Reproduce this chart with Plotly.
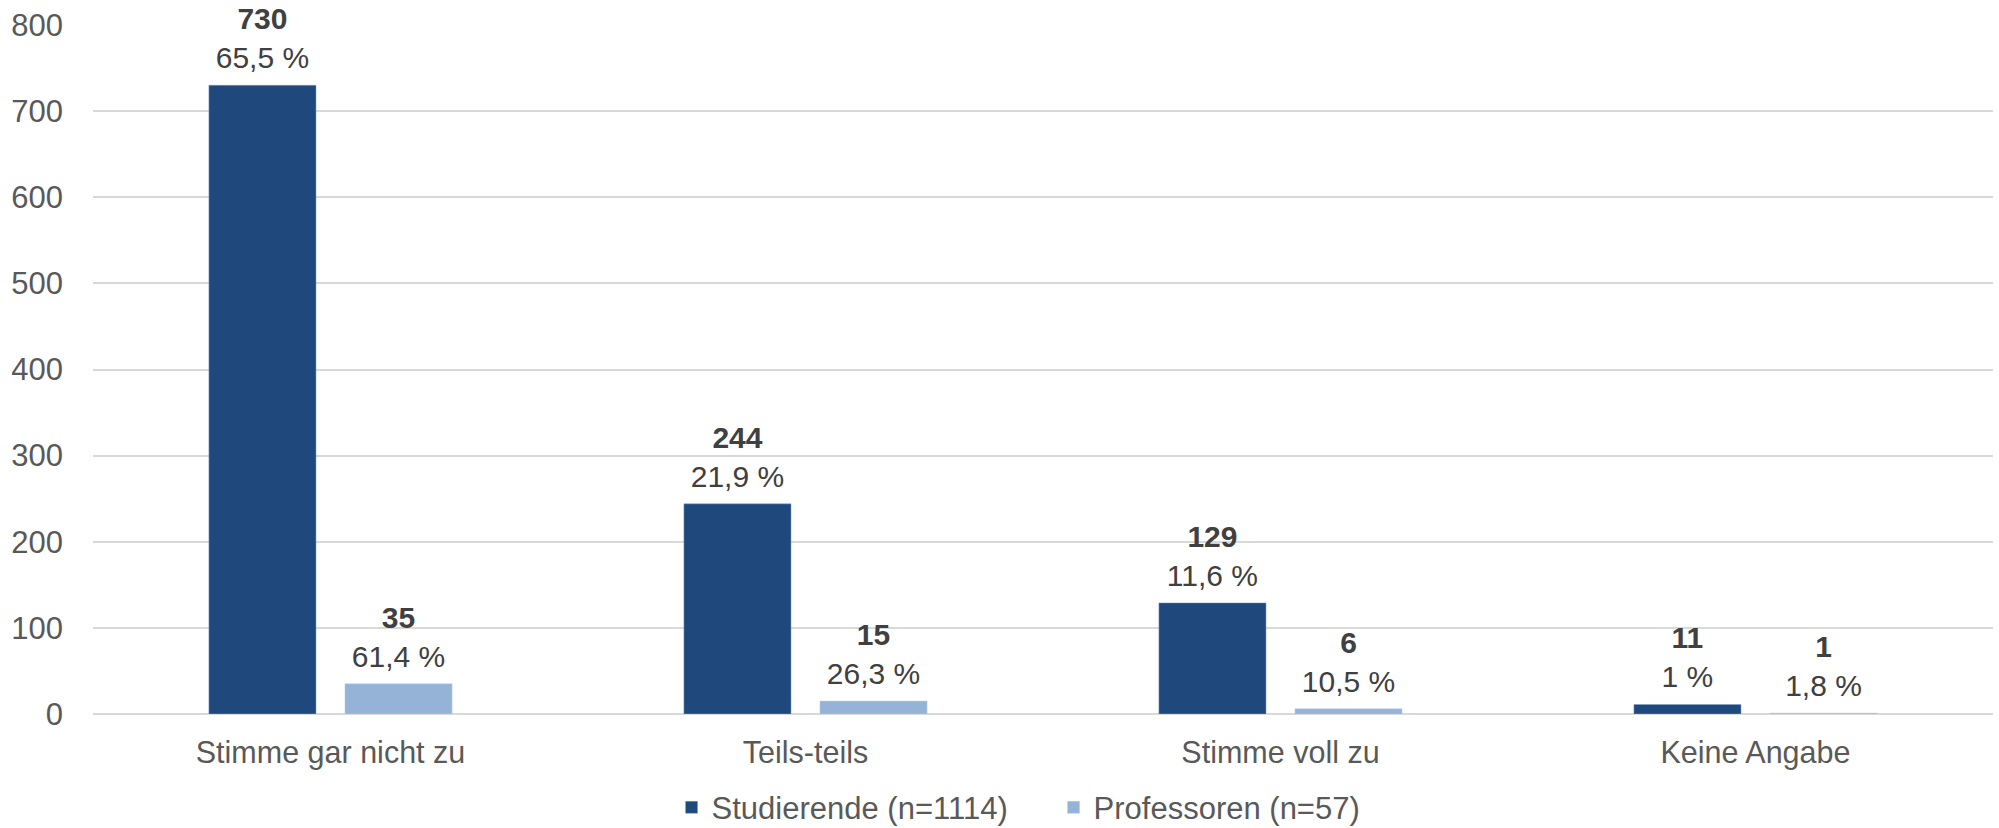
import plotly.graph_objects as go

categories = ["Stimme gar nicht zu", "Teils-teils", "Stimme voll zu", "Keine Angabe"]
studierende = [730, 244, 129, 11]
professoren = [35, 15, 6, 1]
stud_pct = ["65,5 %", "21,9 %", "11,6 %", "1 %"]
prof_pct = ["61,4 %", "26,3 %", "10,5 %", "1,8 %"]
series_names = ["Studierende (n=1114)", "Professoren (n=57)"]
y_ticks = [0, 100, 200, 300, 400, 500, 600, 700, 800]

FONT = "Liberation Sans, Arial, sans-serif"
DARK = "#1F497D"
LIGHT = "#95B3D7"
BARGAP = 0.427

def labels(vals, pcts):
    return [f"<b>{v}</b><br>{p}" for v, p in zip(vals, pcts)]

fig = go.Figure()
fig.add_trace(go.Bar(
    x=categories, y=studierende, name=series_names[0],
    marker=dict(color=DARK, line=dict(color="#7FA0C8", width=0.5)),
    offsetgroup="s",
))
fig.add_trace(go.Bar(
    x=categories, y=professoren, name=series_names[1],
    marker=dict(color=LIGHT, line=dict(color="#B8CDE6", width=0.5)),
    offsetgroup="p",
))
# data labels, grouped like the bars
for vals, pcts, grp in [(studierende, stud_pct, "s"), (professoren, prof_pct, "p")]:
    fig.add_trace(go.Scatter(
        x=categories, y=vals, mode="markers+text",
        marker=dict(size=14, opacity=0),
        text=labels(vals, pcts), textposition="top center",
        textfont=dict(family=FONT, size=30, color="#404040"),
        offsetgroup=grp, showlegend=False, hoverinfo="skip",
        cliponaxis=False,
    ))

fig.update_layout(
    width=1999, height=828,
    margin=dict(l=93, r=6, t=25, b=114, autoexpand=False),
    paper_bgcolor="white", plot_bgcolor="white",
    barmode="group", bargap=BARGAP, bargroupgap=0.213,
    scattermode="group", scattergap=BARGAP,
    font=dict(family=FONT, color="#595959"),
    showlegend=True,
    legend=dict(
        orientation="h", x=0.3045, xanchor="left", y=-0.136, yanchor="middle",
        font=dict(family=FONT, size=31, color="#595959"),
        itemwidth=30, traceorder="normal",
        entrywidth=337, entrywidthmode="pixels",
    ),
)
fig.update_yaxes(
    range=[0, 800], tickvals=y_ticks, automargin=False,
    showgrid=True, gridcolor="#D9D9D9", gridwidth=1.5,
    zeroline=True, zerolinecolor="#D9D9D9", zerolinewidth=1.5,
    showline=False, ticks="",
    tickfont=dict(family=FONT, size=31, color="#595959"),
    ticklabelstandoff=29,
)
fig.update_xaxes(
    showline=False, ticks="", automargin=False,
    tickfont=dict(family=FONT, size=30.5, color="#595959"),
    ticklabelstandoff=17,
)

fig.write_html(
    "out.html",
    config={"displayModeBar": False},
    post_script="document.body.style.margin='0';document.body.style.overflow='hidden';",
)
